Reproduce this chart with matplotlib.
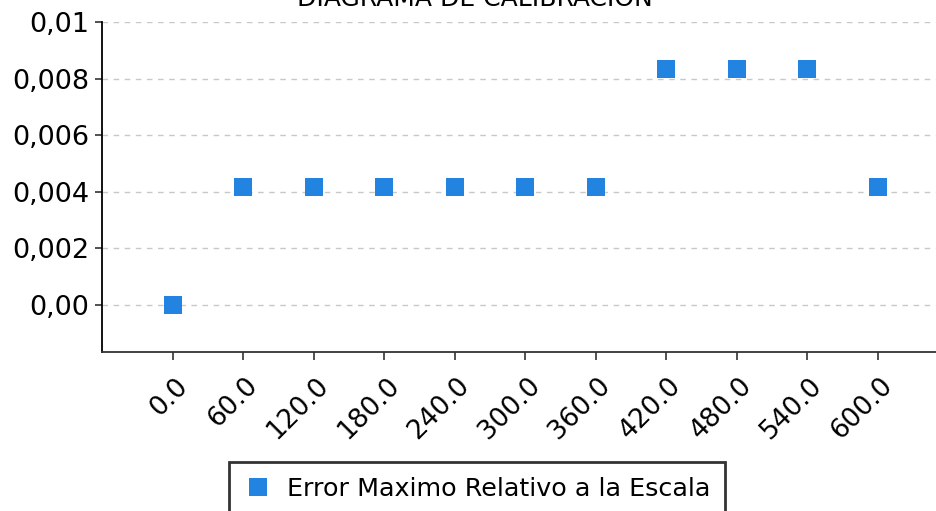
import matplotlib.pyplot as plt
import matplotlib as mpl
from matplotlib.transforms import ScaledTranslation

mpl.rcParams['font.family'] = 'DejaVu Sans'

# data
categorias = ["0.0", "60.0", "120.0", "180.0", "240.0", "300.0",
              "360.0", "420.0", "480.0", "540.0", "600.0"]
error_rel = [0.0, 0.004167, 0.004167, 0.004167, 0.004167, 0.004167,
             0.004167, 0.008333, 0.008333, 0.008333, 0.004167]
yticks = [0.0, 0.002, 0.004, 0.006, 0.008, 0.01]
ytick_labels = ["0,00", "0,002", "0,004", "0,006", "0,008", "0,01"]

azul = "#2383e0"

fig = plt.figure(figsize=(9.37, 5.11), dpi=100)
ax = fig.add_axes([102/937, 159/511, 846.6/937, 330/511])

pos = list(range(len(categorias)))
ax.plot(pos, error_rel, linestyle='none', marker='s', markersize=13.5,
        color=azul, markeredgewidth=0, label="Error Maximo Relativo a la Escala",
        zorder=3)

ax.set_xlim(-1, len(categorias))
ax.set_ylim(-0.00166, 0.01)

ax.set_xticks(pos)
ax.set_xticklabels([])
# rotated labels, drawn by hand so they can sit a bit right of the tick
trans = ax.get_xaxis_transform() + ScaledTranslation(11/100, -30/100, fig.dpi_scale_trans)
for p, cat in zip(pos, categorias):
    ax.text(p, 0, cat, transform=trans, rotation=45, rotation_mode='anchor',
            ha='right', va='center', fontsize=19, clip_on=False)

ax.set_yticks(yticks)
ax.set_yticklabels(ytick_labels, fontsize=19.5)

ax.tick_params(axis='x', length=6, width=1.2, color='#333333')
ax.tick_params(axis='y', length=5, width=1.2, pad=4, color='#333333')

for s in ['top', 'right']:
    ax.spines[s].set_visible(False)
ax.spines['left'].set_linewidth(1.3)
ax.spines['bottom'].set_linewidth(1.3)
ax.spines['bottom'].set_color('#333333')

ax.yaxis.grid(True, linestyle=(0, (4, 4)), color='#c8c8c8', linewidth=1)
ax.set_axisbelow(True)

fig.text(475/937, 1 - 6/511, "DIAGRAMA DE CALIBRACION", ha='center',
         va='baseline', fontsize=18)

leg = fig.legend(loc='upper left', bbox_to_anchor=(229/937, 1 - 462/511),
                 fontsize=18.3, frameon=True, fancybox=False, borderpad=0.6,
                 handlelength=1.05, handletextpad=0.62, borderaxespad=0,
                 markerscale=1.0)
leg.get_frame().set_edgecolor('black')
leg.get_frame().set_linewidth(2)

fig.savefig("out.png", dpi=100)
